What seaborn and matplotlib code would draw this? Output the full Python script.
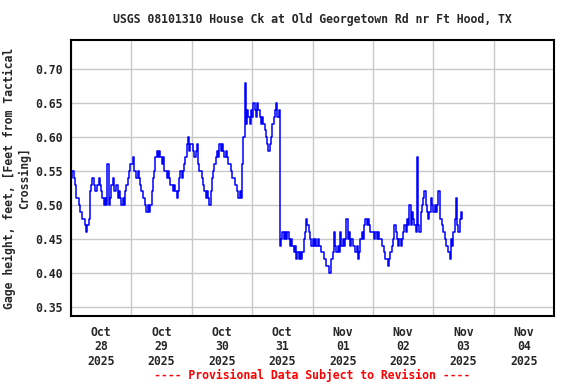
import numpy as np
import pandas as pd
import matplotlib
matplotlib.use("Agg")
import matplotlib.pyplot as plt
import matplotlib.dates as mdates
import seaborn as sns

# gage height readings, hundredths of a foot, every 30 minutes from Oct 28 00:00
oct28 = [54,55,54,53,51,51,50,49,49,48,48,47,46,47,48,52,53,54,53,52,52,53,54,53,
         52,51,50,51,50,56,50,51,53,54,52,52,53,51,52,51,50,51,50,52,53,54,55,56]
oct29 = [56,57,55,55,54,55,54,53,52,51,51,50,49,50,49,50,52,54,55,57,58,57,58,57,
         56,57,55,55,54,55,54,53,53,52,53,52,51,52,54,55,54,55,56,57,59,60,58,59]
oct30 = [59,58,57,58,59,56,55,55,54,53,52,51,52,51,50,52,54,55,56,57,58,57,59,58,
         59,58,57,58,57,56,56,55,54,54,53,53,52,51,52,51,56,60,68,62,64,63,62,64]
oct31 = [63,65,64,63,65,64,63,62,63,62,61,60,59,58,59,60,62,63,64,65,63,64,44,45,
         46,45,46,45,46,45,44,45,44,43,44,42,43,42,43,42,43,45,46,48,47,46,45,44]
nov01 = [45,44,45,44,45,44,44,43,43,42,42,41,41,40,40,42,43,46,44,43,44,43,46,44,
         45,44,45,48,45,46,44,45,44,44,43,44,42,43,45,46,45,47,48,47,48,47,46,46]
nov02 = [46,45,46,45,46,45,45,44,44,43,42,42,41,42,43,44,45,47,46,45,44,45,44,45,
         46,47,46,48,47,50,47,49,48,47,46,57,47,46,49,50,51,52,50,49,48,49,51,50]
nov03 = [49,50,49,50,52,48,48,47,46,45,44,44,43,42,45,44,46,48,51,47,46,48,49,48]

y_ticks = [0.35, 0.40, 0.45, 0.50, 0.55, 0.60, 0.65, 0.70]

vals = np.array(oct28 + oct29 + oct30 + oct31 + nov01 + nov02 + nov03) / 100.0
times = pd.date_range("2025-10-28 00:00", periods=len(vals), freq="30min")
df = pd.DataFrame({"time": times, "gage": vals})

sns.set_style("white")
plt.rcParams['font.family'] = ['DejaVu Sans Mono']
plt.rcParams['font.weight'] = 'bold'
plt.rcParams['font.size'] = 8.3

fig = plt.figure(figsize=(5.76, 3.84), dpi=100)
ax = fig.add_axes([71/576, 1-316/384, (554-71)/576, (316-40)/384])

sns.lineplot(data=df, x="time", y="gage", drawstyle="steps-post", color="#0000ff",
             linewidth=1.1, ax=ax, estimator=None)

ax.set_xlim(pd.Timestamp("2025-10-28"), pd.Timestamp("2025-11-05"))
ax.set_ylim(0.3363, 0.7432)
ax.set_yticks(y_ticks)
ax.set_yticklabels([f"{t:.2f}" for t in y_ticks])

ax.xaxis.set_major_locator(mdates.DayLocator())
ax.xaxis.set_major_formatter(plt.NullFormatter())
ax.xaxis.set_minor_locator(mdates.HourLocator(byhour=12))
ax.xaxis.set_minor_formatter(mdates.DateFormatter("%b\n%d\n%Y"))
ax.tick_params(axis="x", which="both", length=0, pad=7)
ax.tick_params(axis="y", length=0, pad=6)
for lab in ax.xaxis.get_minorticklabels():
    lab.set_linespacing(1.15)

ax.grid(True, which="major", color="#c8c8c8", linewidth=1)
ax.set_axisbelow(True)
for s in ax.spines.values():
    s.set_color("black")
    s.set_linewidth(1.5)

ax.set_xlabel("")
ax.set_ylabel("")
fig.text(17/576, 1-178/384, "Gage height, feet, [Feet from Tactical\nCrossing]",
         rotation=90, ha="center", va="center", multialignment="center")
fig.text(312.5/576, 1-20/384, "USGS 08101310 House Ck at Old Georgetown Rd nr Ft Hood, TX",
         ha="center", va="center")
fig.text(312.5/576, 1-375/384, "---- Provisional Data Subject to Revision ----",
         ha="center", va="center", color="red")

fig.savefig("out.png", dpi=100)
